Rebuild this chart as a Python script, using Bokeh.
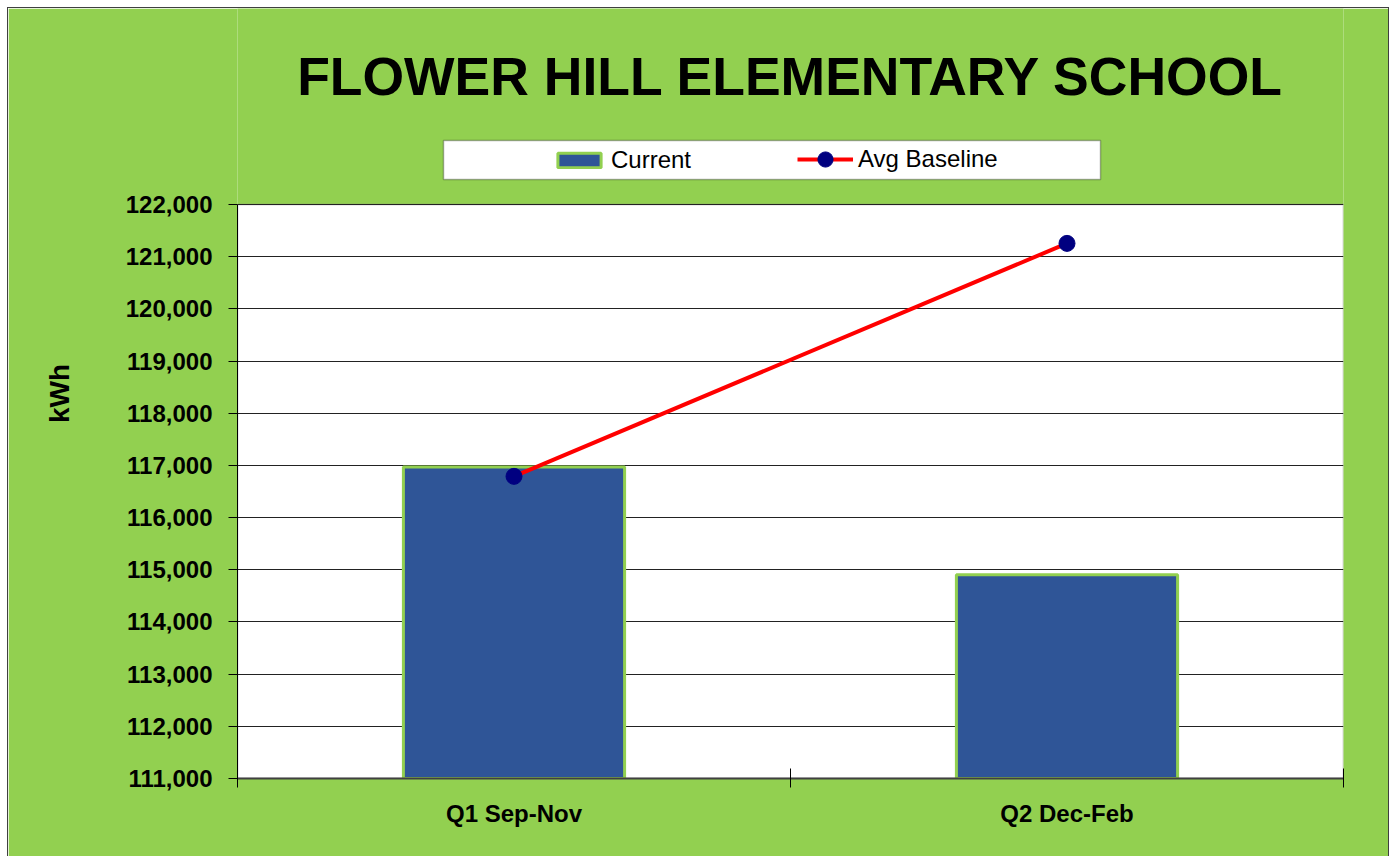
from bokeh.plotting import figure
from bokeh.models import (ColumnDataSource, FixedTicker, NumeralTickFormatter, Range1d,
                          Label, Legend, LegendItem, BoxAnnotation)
from bokeh.embed import file_html
from bokeh.resources import INLINE

# ---- data ----
categories = ["Q1 Sep-Nov", "Q2 Dec-Feb"]
current = [116970, 114905]
avg_baseline = [116790, 121255]
y_ticks = [111000, 112000, 113000, 114000, 115000, 116000, 117000,
           118000, 119000, 120000, 121000, 122000]
title_text = "FLOWER HILL ELEMENTARY SCHOOL"
y_label = "kWh"

FONT = "Liberation Sans"
GREEN = "#92D050"
BAR_BLUE = "#2F5597"

# frame geometry (pixels): plot area is 574 px high for the tick span,
# the frame continues upward to hold the title and legend
PLOT_H = 574
FRAME_H = 770
y_lo, y_hi = y_ticks[0], y_ticks[-1]
y_top = y_lo + (y_hi - y_lo) * FRAME_H / PLOT_H

x_pos = [i + 0.5 for i in range(len(categories))]
src = ColumnDataSource(dict(x=x_pos, cat=categories, current=current, base=avg_baseline))

p = figure(frame_width=1106, frame_height=FRAME_H,
           x_range=Range1d(0, len(categories)), y_range=Range1d(y_lo, y_top),
           output_backend="svg", toolbar_location=None,
           min_border_left=229, min_border_right=45, min_border_top=0, min_border_bottom=78,
           background_fill_color=GREEN, border_fill_color=GREEN,
           margin=(8, 0, 0, 8), styles={"outline": "1px solid #404040"})

p.outline_line_color = None

# white plot area
plot_area = BoxAnnotation(left=0, right=len(categories), bottom=y_lo, top=y_hi,
                          fill_color="white", fill_alpha=1.0,
                          line_color="#808080", line_width=2, level="image")
p.add_layout(plot_area)

# x axis
xa = p.xaxis[0]
xa.ticker = FixedTicker(ticks=x_pos, minor_ticks=list(range(len(categories) + 1)))
xa.major_label_overrides = {x: c for x, c in zip(x_pos, categories)}
xa.major_tick_in = 0
xa.major_tick_out = 0
xa.minor_tick_in = 10
xa.minor_tick_out = 9
xa.minor_tick_line_color = "black"
xa.axis_line_color = "#404040"
xa.axis_line_width = 2
xa.major_label_text_font = FONT
xa.major_label_text_font_style = "bold"
xa.major_label_text_font_size = "24px"
xa.major_label_text_color = "black"
xa.major_label_standoff = 12

# y axis
ya = p.yaxis[0]
ya.bounds = (y_lo, y_hi)
ya.ticker = FixedTicker(ticks=y_ticks)
ya.formatter = NumeralTickFormatter(format="0,0")
ya.major_tick_in = 0
ya.major_tick_out = 9
ya.minor_tick_line_color = None
ya.axis_line_color = "black"
ya.major_tick_line_color = "black"
ya.major_label_text_font = FONT
ya.major_label_text_font_style = "bold"
ya.major_label_text_font_size = "24px"
ya.major_label_text_color = "black"
ya.major_label_standoff = 16
ya.axis_label = y_label
ya.axis_label_text_font = FONT
ya.axis_label_text_font_style = "bold"
ya.axis_label_text_font_size = "28px"
ya.axis_label_text_color = "black"
ya.axis_label_standoff = 48

p.xgrid.visible = False
p.ygrid.ticker = FixedTicker(ticks=y_ticks)
p.ygrid.grid_line_color = "#222222"
p.ygrid.grid_line_width = 1

# glyphs
r_bar = p.vbar(x="x", top="current", bottom=y_lo, width=0.4, source=src,
               fill_color=BAR_BLUE, line_color=GREEN, line_width=3)
r_line = p.line("x", "base", source=src, line_color="red", line_width=4)
r_pts = p.scatter("x", "base", source=src, size=16, fill_color="#000080", line_color="#000080")

# legend box
box = BoxAnnotation(left=206, right=863, bottom=599, top=638,
                    left_units="screen", right_units="screen",
                    bottom_units="screen", top_units="screen",
                    fill_color="white", fill_alpha=1.0, line_color="black", line_width=1.5)
p.add_layout(box)

common = dict(orientation="horizontal", padding=0, margin=0, label_standoff=5,
              label_text_font=FONT, label_text_font_size="24px", label_text_color="black",
              border_line_color=None, background_fill_alpha=0)
legend_bar = Legend(items=[LegendItem(label="Current", renderers=[r_bar])],
                    location=(315, 604), glyph_width=54, glyph_height=18, **common)
legend_line = Legend(items=[LegendItem(label="Avg Baseline", renderers=[r_line, r_pts])],
                     location=(560, 600), glyph_width=56, glyph_height=38, **common)
p.add_layout(legend_bar)
p.add_layout(legend_line)

title = Label(x=553, y=702, x_units="screen", y_units="screen", text=title_text,
              text_font=FONT, text_font_style="bold", text_font_size="53.5px",
              text_align="center", text_baseline="alphabetic", text_color="black")
p.add_layout(title)

open("out.html", "w").write(file_html(p, INLINE))
